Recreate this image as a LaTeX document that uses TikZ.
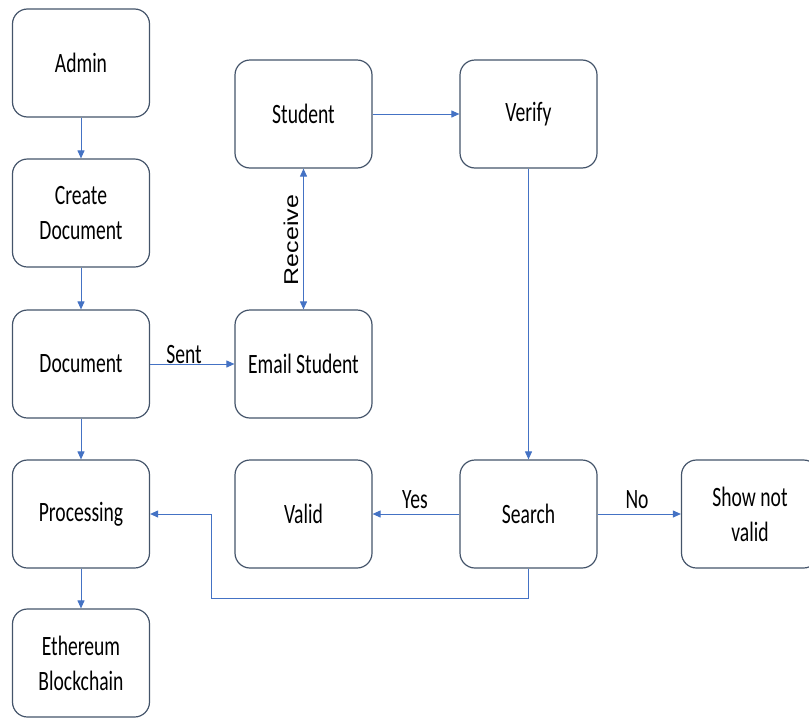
\documentclass[tikz,border=0pt]{standalone}
\usepackage{fontspec}
\setmainfont{Carlito}
\newfontfamily\arialf{Liberation Sans}
\usetikzlibrary{arrows.meta}
\definecolor{boxline}{HTML}{44546A}
\definecolor{arrowc}{HTML}{4472C4}
\newcommand{\sq}[1]{\scalebox{0.7}[1]{#1}}
\tikzset{
  procbox/.style={draw=boxline, line width=1.2pt, rounded corners=15pt, minimum width=137pt, minimum height=108pt, inner sep=0pt, align=center, font=\fontsize{28}{35}\selectfont},
  conn/.style={draw=arrowc, line width=1pt, -{Triangle[length=8pt,width=7pt]}},
  lbl/.style={font=\fontsize{28}{32}\selectfont, inner sep=0pt, anchor=base},
}
\begin{document}
\begin{tikzpicture}[x=1pt,y=-1pt]
\useasboundingbox (0,0) rectangle (809,718);
\clip (0,0) rectangle (809,718);
\node[procbox] (admin) at (81,63) {\sq{Admin}};
\node[procbox] (create) at (81,213) {\sq{Create}\\\sq{Document}};
\node[procbox] (doc) at (81,364) {\sq{Document}};
\node[procbox] (proc) at (81,514) {\sq{Processing}};
\node[procbox] (eth) at (81,663) {\sq{Ethereum}\\\sq{Blockchain}};
\node[procbox] (student) at (303.5,114) {\sq{Student}};
\node[procbox] (verify) at (528.5,114) {\sq{Verify}};
\node[procbox] (email) at (303.5,364) {\sq{Email Student}};
\node[procbox] (valid) at (303.5,514) {\sq{Valid}};
\node[procbox] (search) at (528.5,514) {\sq{Search}};
\node[procbox] (show) at (750,514) {\sq{Show not}\\\sq{valid}};

\draw[conn] (admin) -- (create);
\draw[conn] (create) -- (doc);
\draw[conn] (doc) -- (proc);
\draw[conn] (proc) -- (eth);
\draw[conn] (doc) -- (email);
\node[lbl] (sent) at (184,363) {\sq{Sent}};
\draw[conn, {Triangle[length=8pt,width=7pt]}-{Triangle[length=8pt,width=7pt]}] (email) -- (student);
\node[inner sep=0pt, anchor=base, rotate=90, font=\arialf\fontsize{25}{28}\selectfont] (recv) at (298,240) {\scalebox{1}[0.8]{Receive}};
\draw[conn] (student) -- (verify);
\draw[conn] (verify) -- (search);
\draw[conn] (search) -- (valid);
\node[lbl] (yes) at (415,508) {\sq{Yes}};
\draw[conn] (search) -- (show);
\node[lbl] (no) at (637,508) {\sq{No}};
\coordinate (c1) at (528.5,598);
\coordinate (c2) at (211,598);
\coordinate (c3) at (211,514);
\draw[conn] (search.south) -- (c1) -- (c2) -- (c3) -- (proc.east);
\end{tikzpicture}
\end{document}
